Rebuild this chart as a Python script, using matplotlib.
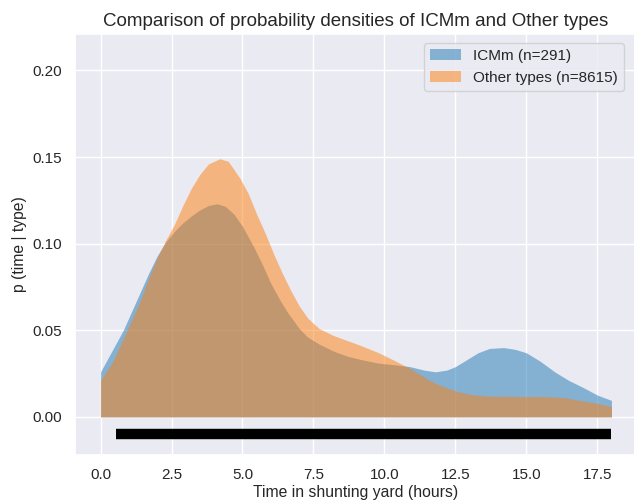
#Comparing how long ICMm wagons and other types stay in the shunting yard
import numpy as np
import matplotlib
matplotlib.use("Agg")
import matplotlib.pyplot as plt
import seaborn as sns

#density of ICMm
icmm_time = [0.0, 0.4, 0.8, 1.1, 1.4, 1.7, 2.0, 2.3, 2.6, 2.9, 3.2, 3.5, 3.8, 4.1,
             4.4, 4.7, 5.0, 5.4, 5.7, 6.0, 6.3, 6.6, 7.0, 7.3, 7.7, 8.2, 8.7, 9.2,
             9.8, 10.4, 10.9, 11.4, 11.8, 12.2, 12.5, 12.9, 13.3, 13.7, 14.2, 14.6,
             15.0, 15.5, 16.0, 16.5, 17.0, 17.5, 18.0]
icmm_dens = [0.026, 0.038, 0.050, 0.061, 0.072, 0.083, 0.093, 0.101, 0.107, 0.112,
             0.116, 0.1195, 0.122, 0.123, 0.1215, 0.117, 0.110, 0.098, 0.088, 0.077,
             0.068, 0.060, 0.051, 0.046, 0.042, 0.038, 0.035, 0.033, 0.031, 0.030,
             0.029, 0.027, 0.026, 0.027, 0.029, 0.033, 0.037, 0.0395, 0.040, 0.039,
             0.037, 0.032, 0.026, 0.021, 0.017, 0.0126, 0.0095]

#density of all other types
other_time = [0.0, 0.4, 0.8, 1.1, 1.4, 1.7, 2.0, 2.3, 2.6, 2.9, 3.2, 3.5, 3.8, 4.2,
              4.5, 4.9, 5.2, 5.5, 5.8, 6.1, 6.4, 6.7, 7.0, 7.3, 7.7, 8.2, 8.7, 9.2,
              9.8, 10.3, 10.9, 11.3, 11.6, 12.0, 12.5, 13.0, 13.6, 14.5, 15.7, 16.4,
              16.9, 17.5, 18.0]
other_dens = [0.021, 0.031, 0.045, 0.056, 0.067, 0.080, 0.092, 0.102, 0.111, 0.122,
              0.132, 0.140, 0.146, 0.149, 0.1475, 0.138, 0.129, 0.117, 0.106, 0.094,
              0.083, 0.073, 0.064, 0.057, 0.051, 0.047, 0.044, 0.041, 0.037, 0.033,
              0.028, 0.024, 0.021, 0.018, 0.015, 0.013, 0.012, 0.0118, 0.0117, 0.011,
              0.0094, 0.0078, 0.006]

labels = ["ICMm (n=291)", "Other types (n=8615)"]

#the observed times drawn as a rug under the curves
rug_start = 0.53
rug_end = 17.97
rug_y = -0.01

sns.set_theme(style="darkgrid")
plt.rcParams["font.family"] = ["Liberation Sans", "DejaVu Sans"]

fig = plt.figure(figsize=(6.34, 5.04), dpi=100)
ax = fig.add_axes([75 / 634, 49 / 504, 562 / 634, 421 / 504])

ax.fill_between(icmm_time, icmm_dens, color="#1f77b4", alpha=0.5, linewidth=0,
                label=labels[0])
ax.fill_between(other_time, other_dens, color="#ff7f0e", alpha=0.5, linewidth=0,
                label=labels[1])
ax.hlines(rug_y, rug_start, rug_end, color="black", linewidth=7.5)

ax.set_xlim(-0.9, 18.9)
ax.set_ylim(-0.022, 0.221)
ax.set_xticks(np.arange(0, 18, 2.5))
ax.set_yticks([0.0, 0.05, 0.10, 0.15, 0.20])
ax.tick_params(labelsize=11)

ax.set_title("Comparison of probability densities of ICMm and Other types", fontsize=13.5)
ax.set_xlabel("Time in shunting yard (hours)", fontsize=11.3, labelpad=2)
ax.set_ylabel("p (time | type)", fontsize=11.3)
ax.legend(loc="upper right", bbox_to_anchor=(0.99, 0.997), fontsize=11)

fig.savefig("out.png", dpi=100)
